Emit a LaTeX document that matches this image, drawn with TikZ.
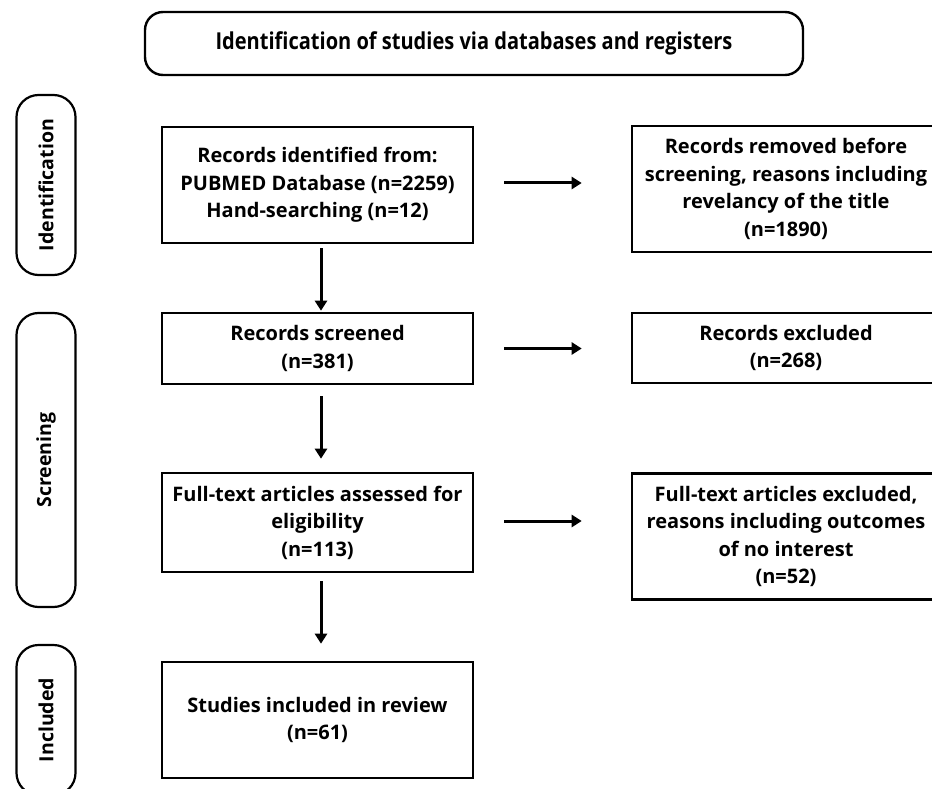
\documentclass[tikz,border=0pt]{standalone}
\usepackage{fontspec}
\setmainfont{Open Sans}
\newfontfamily\titlefont{Open Sans}[FakeStretch=0.86]
\usetikzlibrary{arrows.meta}
\tikzset{
  box/.style={draw, line width=2.6pt, rectangle, align=center, inner sep=0pt,
    font=\fontsize{20}{27.5}\selectfont\bfseries},
  pill/.style={draw, line width=2.2pt, rounded corners=22pt, rectangle, inner sep=0pt,
    minimum height=59pt, rotate=90, font=\fontsize{19.5}{24}\selectfont\bfseries},
  titlebox/.style={draw, line width=2.4pt, rounded corners=18pt, rectangle, inner sep=0pt,
    minimum width=658pt, minimum height=63pt, font=\titlefont\fontsize{23.3}{26}\selectfont\bfseries},
  arr/.style={-{Triangle[length=10pt,width=12pt]}, line width=3pt}
}
\begin{document}
\begin{tikzpicture}[x=1pt,y=-1pt]
\useasboundingbox (0,0) rectangle (932,789);
\clip (0,0) rectangle (932,789);

\node[titlebox] (title) at (474,43.5) {Identification of studies via databases and registers};

\node[pill, minimum width=180pt] (pid) at (46,185) {Identification};
\node[pill, minimum width=294pt] (psc) at (46,460) {Screening};
\node[pill, minimum width=150pt] (pin) at (46,720) {Included};

\node[box, minimum width=311pt, minimum height=116pt] (b1) at (317.5,185)
  {Records identified from:\\PUBMED Database (n=2259)\\Hand-searching (n=12)};
\node[box, minimum width=311pt, minimum height=71pt] (b2) at (317.5,348.5)
  {Records screened\\(n=381)};
\node[box, minimum width=311pt, minimum height=99pt] (b3) at (317.5,522.5)
  {Full-text articles assessed for\\eligibility\\(n=113)};
\node[box, minimum width=311pt, minimum height=116pt] (b4) at (317.5,720)
  {Studies included in review\\(n=61)};

\node[box, minimum width=308pt, minimum height=126pt] (r1) at (786,189)
  {Records removed before\\screening, reasons including\\revelancy of the title\\(n=1890)};
\node[box, minimum width=308pt, minimum height=70pt] (r2) at (786,348)
  {Records excluded\\(n=268)};
\node[box, minimum width=308pt, minimum height=126pt] (r3) at (786,536.5)
  {Full-text articles excluded,\\reasons including outcomes\\of no interest\\(n=52)};

\draw[arr, shorten <=30pt, shorten >=49pt] ([yshift=2pt]b1.east) -- ([yshift=2pt]r1.west |- b1.east);
\draw[arr, shorten <=30pt, shorten >=49pt] (b2.east) -- (r2.west |- b2.east);
\draw[arr, shorten <=30pt, shorten >=49pt] ([yshift=1.5pt]b3.east) -- ([yshift=1.5pt]r3.west |- b3.east);

\draw[arr, shorten <=4pt, shorten >=1pt] ([xshift=3.5pt]b1.south) -- ([xshift=3.5pt]b2.north);
\draw[arr, shorten <=11pt, shorten >=13pt] ([xshift=3.5pt]b2.south) -- ([xshift=3.5pt]b3.north);
\draw[arr, shorten <=8pt, shorten >=17pt] ([xshift=3.5pt]b3.south) -- ([xshift=3.5pt]b4.north);
\end{tikzpicture}
\end{document}
